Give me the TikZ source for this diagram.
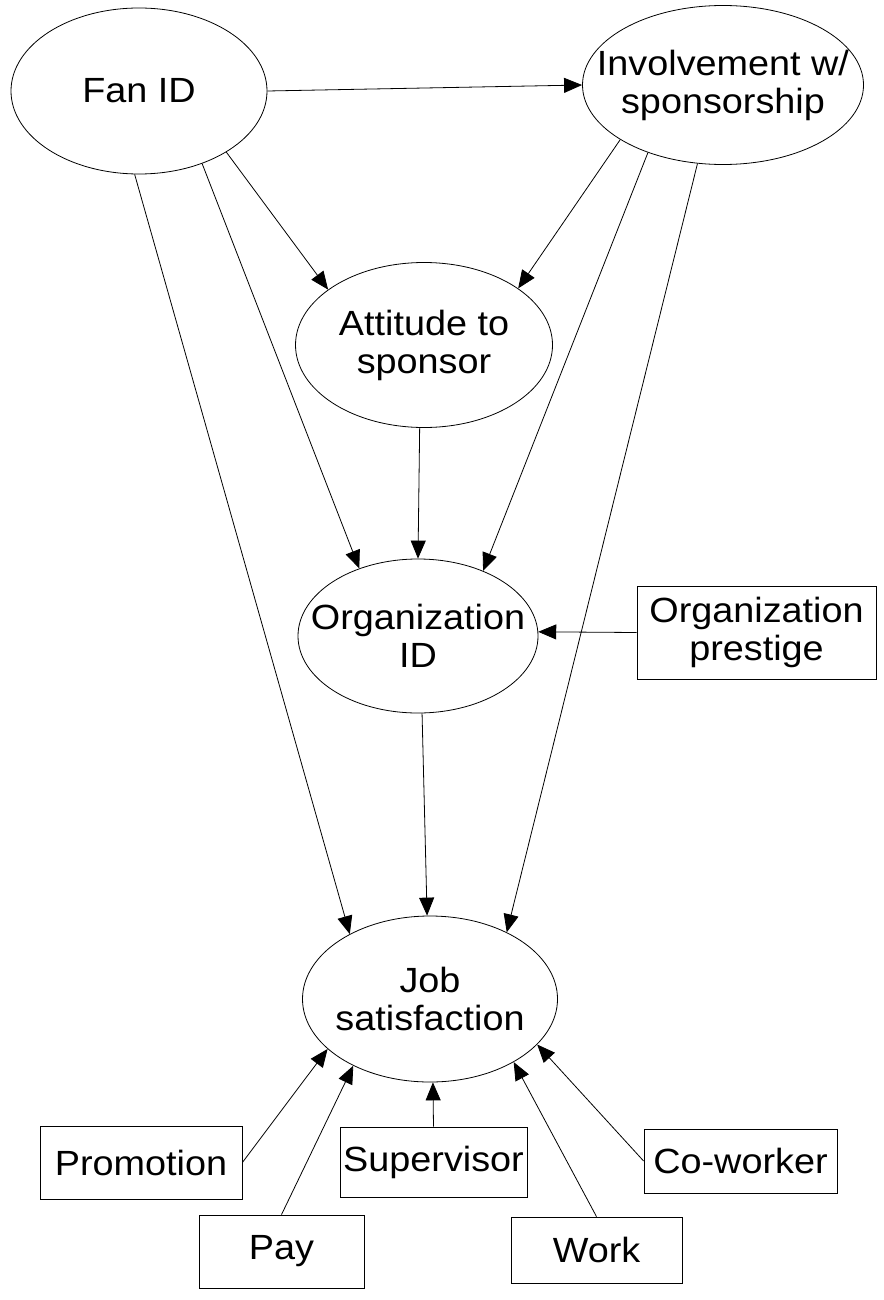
\documentclass[tikz,border=0pt]{standalone}
\usepackage{fontspec}
\setmainfont{Liberation Sans}[FakeStretch=1.08]
\usetikzlibrary{arrows.meta,shapes.geometric}

\begin{document}
\begin{tikzpicture}[x=1pt,y=-1pt,
    every node/.style={font=\fontsize{35}{38}\selectfont, align=center, inner sep=0pt},
    var/.style={draw, ellipse, inner xsep=-40pt, line width=0.8pt},
    box/.style={draw, rectangle, line width=0.8pt},
    link/.style={line width=0.8pt, -{Triangle[length=18pt,width=15pt]}}]
    %%%%% START %%%%%
    \useasboundingbox (0,0) rectangle (883,1300);

    % latent variables
    \node[var, minimum width=256, minimum height=166] (fan) at (139,91) {Fan ID};
    \node[var, minimum width=281, minimum height=159] (inv) at (723,85) {Involvement w/\\sponsorship};
    \node[var, minimum width=257, minimum height=165] (att) at (424,345) {Attitude to\\sponsor};
    \node[var, minimum width=240, minimum height=154] (org) at (418,636) {Organization\\ID};
    \node[var, minimum width=255, minimum height=166] (job) at (430,999) {Job\\satisfaction};

    % observed
    \node[box, minimum width=239, minimum height=93] (prest) at (756.5,632.5) {Organization\\prestige};
    \node[box, minimum width=202, minimum height=73] (promo) at (141,1162.5) {Promotion};
    \node[box, minimum width=165, minimum height=73] (pay) at (281.5,1251.5) {Pay};
    \node[box, minimum width=187, minimum height=70] (sup) at (433.5,1162) {Supervisor};
    \node[box, minimum width=171, minimum height=66] (work) at (596.5,1250) {Work};
    \node[box, minimum width=193, minimum height=64] (cowork) at (740.5,1161) {Co-worker};

    % paths
    \draw[link] (fan.0) -- (inv.180);
    \draw[link] (fan.-35) -- (att.150);
    \draw[link] (inv.208) -- (att.31);
    \draw[link] (fan.-49) -- (org.131);
    \draw[link] (inv.222) -- (org.45);
    \draw[link] (att.-93) -- (org.90);
    \draw[link] (prest.west) -- (org.2);
    \draw[link] (fan.-93) -- (job.141);
    \draw[link] (inv.252) -- (job.41);
    \draw[link] (org.-87) -- (job.92);

    \draw[link] (promo.east) -- (job.206);
    \draw[link] (pay.north) -- (job.221);
    \draw[link] (sup.north) -- (job.-88);
    \draw[link] (work.north) -- (job.-37);
    \draw[link] (cowork.west) -- (job.-23);
    %%%%% END %%%%%
\end{tikzpicture}
\end{document}
